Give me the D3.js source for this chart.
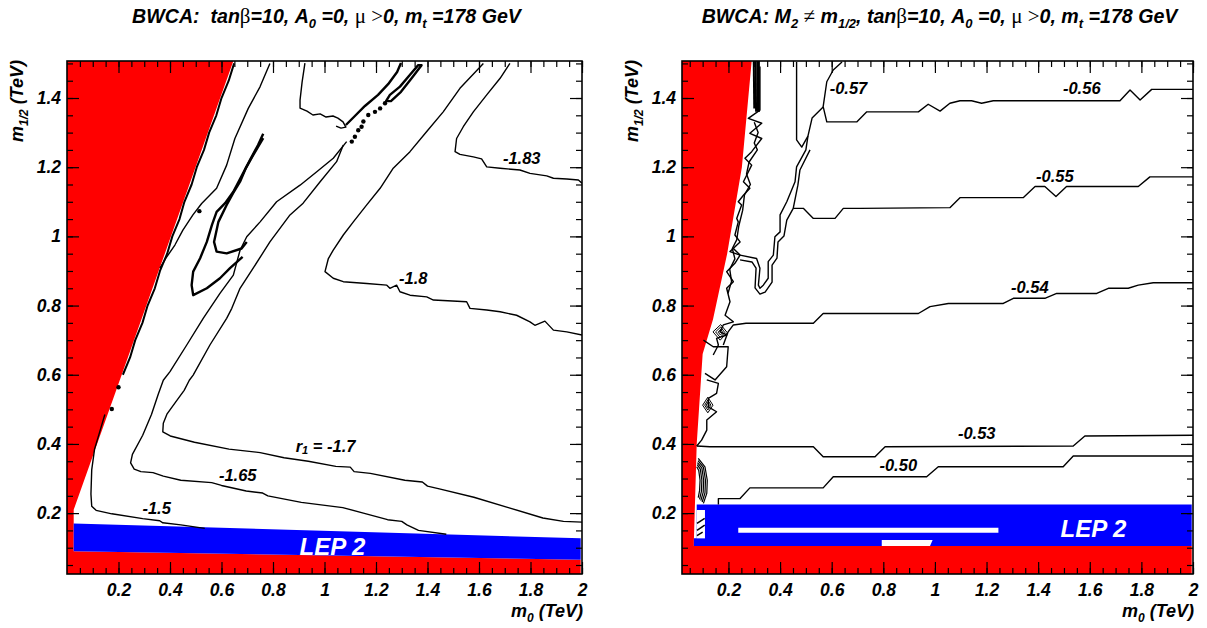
<!DOCTYPE html>
<html><head><meta charset="utf-8">
<script src="https://cdn.jsdelivr.net/npm/d3@7"></script>
<style>
body{margin:0;background:#fff}
svg{display:block}
text{font-family:"Liberation Sans",Arial,sans-serif;font-weight:bold;font-style:italic;fill:#000;white-space:pre}
</style>
</head><body>
<svg id="c" width="1207" height="628"></svg>
<script>
// ---------------- data (m0, m1/2 in TeV) ----------------
const xTickValues = [0.2,0.4,0.6,0.8,1.0,1.2,1.4,1.6,1.8,2.0];
const xTickLabels = ["0.2","0.4","0.6","0.8","1","1.2","1.4","1.6","1.8","2"];
const yTickValues = [0.2,0.4,0.6,0.8,1.0,1.2,1.4];
const yTickLabels = ["0.2","0.4","0.6","0.8","1","1.2","1.4"];

// ----- left panel: excluded regions -----
const leftRed = [[0,1.507],[0.646,1.507],[0.026,0.21],[0.026,0.09],[1.995,0.065],[1.995,0.024],[0,0.024]];
const leftBlue = [[0.026,0.17],[1.995,0.127],[1.995,0.065],[0.026,0.09]];

// ----- left panel: r1 contours -----
const leftC150 = [[0.147,0.485],[0.127,0.435],[0.107,0.385],[0.096,0.325],[0.093,0.255],[0.096,0.220],[0.113,0.208],[0.174,0.198],[0.294,0.184],[0.360,0.178],[0.372,0.172],[0.442,0.166],[0.535,0.156]];
const leftC165 = [[1.086,1.274],[1.034,1.226],[0.970,1.187],[0.905,1.148],[0.814,1.100],[0.750,1.042],[0.698,0.999],[0.672,0.960],[0.646,0.888],[0.594,0.835],[0.529,0.763],[0.465,0.686],[0.400,0.609],[0.374,0.584],[0.355,0.545],[0.328,0.485],[0.294,0.425],[0.254,0.370],[0.247,0.345],[0.261,0.327],[0.287,0.320],[0.334,0.317],[0.374,0.307],[0.442,0.295],[0.562,0.288],[0.600,0.280],[0.696,0.264],[0.760,0.258],[0.780,0.250],[0.910,0.231],[1.071,0.216],[1.151,0.200],[1.245,0.181],[1.300,0.176],[1.320,0.166],[1.365,0.150],[1.473,0.139]];
const leftC170 = [[1.073,1.264],[1.047,1.216],[0.983,1.158],[0.917,1.096],[0.866,1.062],[0.788,0.984],[0.723,0.908],[0.672,0.850],[0.640,0.792],[0.620,0.763],[0.555,0.686],[0.490,0.599],[0.475,0.584],[0.455,0.555],[0.421,0.520],[0.388,0.486],[0.374,0.460],[0.372,0.435],[0.401,0.423],[0.495,0.405],[0.629,0.385],[0.750,0.375],[0.843,0.360],[0.937,0.350],[1.044,0.335],[1.100,0.333],[1.115,0.320],[1.178,0.315],[1.312,0.295],[1.380,0.290],[1.400,0.278],[1.446,0.270],[1.580,0.246],[1.714,0.216],[1.848,0.186],[1.928,0.176],[2.0,0.174]];
const leftC180 = [[1.617,1.500],[1.526,1.428],[1.461,1.360],[1.397,1.303],[1.332,1.245],[1.267,1.197],[1.216,1.139],[1.164,1.091],[1.112,1.042],[1.073,1.004],[1.034,0.960],[1.015,0.936],[1.002,0.898],[1.034,0.879],[1.073,0.869],[1.164,0.864],[1.242,0.859],[1.254,0.850],[1.280,0.859],[1.293,0.840],[1.332,0.830],[1.397,0.825],[1.423,0.816],[1.552,0.811],[1.565,0.792],[1.630,0.787],[1.682,0.782],[1.746,0.772],[1.798,0.753],[1.817,0.743],[1.856,0.755],[1.889,0.729],[1.941,0.724],[2.0,0.715]];
const leftC183 = [[1.720,1.500],[1.682,1.457],[1.630,1.409],[1.578,1.360],[1.539,1.317],[1.513,1.283],[1.507,1.245],[1.526,1.237],[1.578,1.230],[1.610,1.224],[1.630,1.201],[1.682,1.197],[1.759,1.192],[1.798,1.182],[1.863,1.175],[1.889,1.168],[1.941,1.166],[1.986,1.163],[2.0,1.154]];
const leftBand1 = [[0.788,1.500],[0.750,1.433],[0.704,1.370],[0.652,1.283],[0.620,1.206],[0.581,1.139],[0.543,1.110],[0.523,1.095],[0.489,1.062],[0.450,1.018],[0.419,0.975],[0.384,0.937],[0.361,0.908]];
const leftLoopOuter = [[0.762,1.297],[0.742,1.264],[0.711,1.221],[0.680,1.177],[0.646,1.129],[0.614,1.096],[0.581,1.071],[0.563,1.033],[0.543,0.984],[0.517,0.937],[0.490,0.898],[0.484,0.859],[0.490,0.830],[0.543,0.850],[0.594,0.879],[0.633,0.908],[0.682,0.941]];
const leftLoopInner = [[0.762,1.284],[0.723,1.235],[0.695,1.198],[0.672,1.158],[0.645,1.125],[0.620,1.091],[0.588,1.042],[0.571,0.984],[0.581,0.956],[0.620,0.951],[0.678,0.965],[0.698,0.984]];
const leftTopV = [[0.924,1.501],[0.913,1.446],[0.905,1.394],[0.905,1.371],[0.932,1.362],[0.955,1.351],[0.983,1.354],[1.006,1.345],[1.033,1.348],[1.052,1.342],[1.072,1.331],[1.083,1.316],[1.064,1.313],[1.045,1.319]];
const leftTopThick = [[1.083,1.322],[1.118,1.348],[1.157,1.377],[1.208,1.409],[1.247,1.440],[1.282,1.475],[1.297,1.501]];
const leftTopLoop = [[1.364,1.495],[1.332,1.467],[1.293,1.433],[1.254,1.409],[1.239,1.391],[1.258,1.391],[1.297,1.418],[1.336,1.455],[1.377,1.495]];
const leftDots = [[1.235,1.385],[1.216,1.370],[1.196,1.360],[1.170,1.351],[1.151,1.332],[1.144,1.317],[1.131,1.307],[1.118,1.288],[1.106,1.274],[0.200,0.564],[0.174,0.501],[0.514,1.073]];
const leftEdge = [[0.649,1.50],[0.628,1.45],[0.600,1.40],[0.580,1.35],[0.552,1.30],[0.532,1.25],[0.504,1.20],[0.484,1.15],[0.456,1.10],[0.437,1.05],[0.409,1.00],[0.389,0.95],[0.361,0.90],[0.341,0.85],[0.313,0.80],[0.293,0.75],[0.265,0.70],[0.245,0.65],[0.217,0.60]];
const leftLabelText = ["-1.83","-1.8","r1 = -1.7","-1.65","-1.5"];
const leftLabelX = [1.766,1.345,1.004,0.663,0.348];
const leftLabelY = [1.226,0.879,0.395,0.310,0.216];
const leftLep = [1.031,0.103];

// ----- right panel: excluded regions -----
const rightRed = [[0.02,1.507],[0.29,1.507],[0.252,1.2],[0.195,0.95],[0.14,0.76],[0.10,0.66],[0.077,0.40],[0.066,0.12],[0.066,0.105],[1.995,0.105],[1.995,0.024],[0.02,0.024]];
const rightBlue = [[0.077,0.225],[1.995,0.225],[1.995,0.105],[0.066,0.105],[0.066,0.127],[0.077,0.127]];
const rightWhite = [
  [[0.077,0.209],[0.109,0.209],[0.109,0.127],[0.077,0.127]],
  [[0.238,0.158],[1.246,0.158],[1.246,0.143],[0.238,0.143]],
  [[0.794,0.122],[0.991,0.122],[0.981,0.105],[0.794,0.105]]
];

// ----- right panel: r1 contours -----
const rightC056 = [[0.640,1.504],[0.606,1.481],[0.581,1.447],[0.567,1.375],[0.581,1.331],[0.697,1.331],[0.736,1.360],[0.936,1.360],[0.974,1.382],[1.020,1.362],[1.058,1.385],[1.097,1.392],[1.142,1.392],[1.181,1.385],[1.226,1.392],[1.717,1.392],[1.756,1.423],[1.795,1.394],[1.840,1.425],[2.0,1.425]];
const rightC055 = [[0.451,1.081],[0.490,1.081],[0.529,1.052],[0.613,1.052],[0.645,1.081],[0.710,1.081],[1.058,1.083],[1.097,1.112],[1.342,1.112],[1.388,1.144],[1.426,1.144],[1.469,1.115],[1.510,1.144],[1.788,1.144],[1.833,1.172],[2.0,1.172]];
const rightC054 = [[0.180,0.686],[0.198,0.723],[0.219,0.744],[0.268,0.749],[0.529,0.749],[0.567,0.777],[0.710,0.777],[0.936,0.777],[0.981,0.797],[1.052,0.806],[1.265,0.806],[1.304,0.821],[1.426,0.821],[1.472,0.835],[1.627,0.835],[1.672,0.850],[1.749,0.850],[1.788,0.859],[1.846,0.866],[2.0,0.866]];
const rightC053 = [[0.077,0.394],[0.128,0.392],[0.529,0.392],[0.567,0.363],[0.768,0.363],[0.807,0.392],[1.536,0.394],[1.581,0.423],[2.0,0.425]];
const rightC050 = [[0.161,0.225],[0.161,0.242],[0.245,0.242],[0.283,0.273],[0.567,0.273],[0.606,0.305],[0.968,0.305],[1.013,0.334],[1.497,0.334],[1.536,0.365],[2.0,0.365]];
const rightVert = [[0.464,1.504],[0.464,1.279],[0.484,1.258],[0.508,1.290]];
const rightTongueOuter = [[0.567,1.374],[0.524,1.342],[0.508,1.290],[0.500,1.250],[0.464,1.201],[0.458,1.158],[0.426,1.100],[0.400,1.062],[0.400,1.013],[0.380,0.999],[0.374,0.946],[0.354,0.927],[0.354,0.879],[0.335,0.859],[0.322,0.850],[0.316,0.859],[0.322,0.908],[0.309,0.936],[0.245,0.946],[0.219,0.965]];
const rightTongueInner = [[0.516,1.250],[0.477,1.192],[0.469,1.148],[0.451,1.081],[0.426,1.047],[0.415,1.001],[0.392,0.984],[0.388,0.937],[0.369,0.917],[0.369,0.868],[0.342,0.839],[0.322,0.833],[0.303,0.851],[0.307,0.908],[0.291,0.926],[0.245,0.932]];
const rightEdgeZig = [[0.322,1.491],[0.322,1.365],[0.277,1.341],[0.329,1.327],[0.283,1.298],[0.329,1.283],[0.290,1.245],[0.264,1.226],[0.290,1.206],[0.258,1.158],[0.283,1.139],[0.258,1.119],[0.238,1.100],[0.251,1.091],[0.232,1.052],[0.238,1.042],[0.225,1.004],[0.245,0.984],[0.206,0.956],[0.245,0.946],[0.225,0.922],[0.193,0.898],[0.219,0.869],[0.193,0.850],[0.206,0.811],[0.187,0.772],[0.219,0.753],[0.180,0.744],[0.167,0.724],[0.193,0.715],[0.154,0.705],[0.161,0.686],[0.141,0.657]];
const rightEdgeZig2 = [[0.300,1.330],[0.315,1.300],[0.300,1.270],[0.312,1.250],[0.280,1.215],[0.270,1.180],[0.285,1.150],[0.262,1.120],[0.255,1.075],[0.240,1.030],[0.232,0.990],[0.215,0.965],[0.225,0.935],[0.205,0.905],[0.212,0.870],[0.198,0.835]];
const rightTopBlack = [
  [[0.298,1.507],[0.300,1.37]],
  [[0.305,1.507],[0.307,1.36]],
  [[0.312,1.507],[0.314,1.36]],
  [[0.318,1.507],[0.318,1.36]]
];
const rightMidLoop = [[0.103,0.700],[0.141,0.681],[0.199,0.681],[0.193,0.623],[0.148,0.585],[0.109,0.604]];
const rightMidZig = [[0.116,0.585],[0.161,0.575],[0.154,0.546],[0.122,0.532],[0.122,0.507],[0.154,0.493],[0.116,0.469],[0.116,0.440],[0.096,0.411],[0.077,0.394]];
const rightSmallLoops = [
  [[0.140,0.724],[0.170,0.745],[0.195,0.722],[0.168,0.700],[0.140,0.724]],
  [[0.150,0.724],[0.170,0.738],[0.186,0.722],[0.168,0.708],[0.150,0.724]],
  [[0.160,0.723],[0.170,0.731],[0.178,0.722],[0.169,0.715],[0.160,0.723]],
  [[0.100,0.512],[0.120,0.535],[0.140,0.512],[0.120,0.490],[0.100,0.512]],
  [[0.108,0.512],[0.120,0.527],[0.132,0.512],[0.120,0.498],[0.108,0.512]],
  [[0.114,0.512],[0.120,0.520],[0.126,0.512],[0.120,0.505],[0.114,0.512]]
];
const rightArcs = [
  [[0.083,0.358],[0.109,0.334],[0.118,0.295],[0.116,0.257],[0.103,0.228]],
  [[0.082,0.352],[0.103,0.332],[0.111,0.295],[0.109,0.258],[0.098,0.232]],
  [[0.080,0.346],[0.097,0.330],[0.104,0.295],[0.102,0.260],[0.093,0.236]],
  [[0.079,0.340],[0.091,0.327],[0.097,0.295],[0.095,0.262],[0.088,0.240]],
  [[0.077,0.334],[0.085,0.323],[0.090,0.295],[0.088,0.265],[0.083,0.245]]
];
const rightNotchLines = [
  [[0.078,0.170],[0.108,0.185]],
  [[0.078,0.150],[0.108,0.165]],
  [[0.078,0.135],[0.100,0.145]]
];
const rightLabelText = ["-0.57","-0.56","-0.55","-0.54","-0.53","-0.50"];
const rightLabelX = [0.665,1.569,1.465,1.368,1.162,0.858];
const rightLabelY = [1.428,1.430,1.174,0.854,0.432,0.339];
const rightLep = [1.614,0.155];

// ---------------- drawing ----------------
const svg = d3.select("#c");
const yDom = [0.024, 1.507];
const FONT = '"Liberation Sans",Arial,sans-serif';

function panel(opt) {
  const x = d3.scaleLinear().domain(opt.xDom).range([opt.x0, opt.x1]);
  const y = d3.scaleLinear().domain(yDom).range([574, 61]);
  const g = svg.append("g");
  const cid = "clip" + opt.id;
  svg.append("defs").append("clipPath").attr("id", cid)
    .append("rect").attr("x", opt.x0).attr("y", 61).attr("width", opt.x1 - opt.x0).attr("height", 574 - 61);
  const pg = g.append("g").attr("clip-path", `url(#${cid})`);
  const line = d3.line().x(d => x(d[0])).y(d => y(d[1]));
  const poly = pts => line(pts) + "Z";
  opt.draw(pg, x, y, line, poly);

  // axes: major + minor ticks, inward on all sides
  const minor = d3.range(0.05, 2.0001, 0.05).filter(v => v >= opt.xDom[0]);
  const minorY = d3.range(0.05, 1.5001, 0.05);
  const ax = (gen, tr, size, vals, labels) => {
    const a = g.append("g").attr("transform", tr)
      .call(gen.tickValues(vals).tickSize(size).tickPadding(10)
        .tickFormat(labels ? ((d, i) => labels[i]) : () => ""));
    a.select(".domain").remove();
    a.selectAll("line").attr("stroke", "#000").attr("stroke-width", 1.2);
    a.selectAll("text").attr("font-size", 17.5).attr("fill", "#000")
      .style("font-family", FONT).style("font-weight", "bold").style("font-style", "italic");
    return a;
  };
  ax(d3.axisBottom(x), "translate(0,574)", -12, xTickValues, xTickLabels);
  ax(d3.axisBottom(x), "translate(0,574)", -6, minor, null);
  ax(d3.axisTop(x), "translate(0,61)", -12, xTickValues, null);
  ax(d3.axisTop(x), "translate(0,61)", -6, minor, null);
  const yl = ax(d3.axisLeft(y), `translate(${opt.x0},0)`, -12, yTickValues, yTickLabels);
  yl.selectAll("text").attr("x", -6);
  ax(d3.axisLeft(y), `translate(${opt.x0},0)`, -6, minorY, null);
  ax(d3.axisRight(y), `translate(${opt.x1},0)`, -12, yTickValues, null);
  ax(d3.axisRight(y), `translate(${opt.x1},0)`, -6, minorY, null);

  g.append("rect").attr("x", opt.x0).attr("y", 61).attr("width", opt.x1 - opt.x0).attr("height", 574 - 61)
    .attr("fill", "none").attr("stroke", "#000").attr("stroke-width", 1.6);

  // axis titles
  const xt = g.append("text").attr("x", opt.x1 + 1).attr("y", 617).attr("text-anchor", "end").attr("font-size", 18);
  xt.append("tspan").text("m");
  xt.append("tspan").attr("font-size", 12).attr("dy", 5).text("0");
  xt.append("tspan").attr("dy", -5).text(" (TeV)");
  const yt = g.append("text").attr("transform", `translate(${opt.x0 - 44},60) rotate(-90)`)
    .attr("text-anchor", "end").attr("font-size", 18);
  yt.append("tspan").text("m");
  yt.append("tspan").attr("font-size", 12).attr("dy", 5).text("1/2");
  yt.append("tspan").attr("dy", -5).text(" (TeV)");

  // title
  const tt = g.append("text").attr("x", (opt.x0 + opt.x1) / 2 + 2).attr("y", 23).attr("text-anchor", "middle").attr("font-size", 19.6);
  opt.title.forEach(p => {
    const s = tt.append("tspan").text(p.t);
    if (p.sub) s.attr("font-size", 13).attr("dy", 5);
    if (p.up) s.attr("dy", -5);
    if (p.sym) s.style("font-family", '"Liberation Serif",serif').style("font-style", "normal").style("font-weight", "normal").attr("font-size", 21);
  });
  return {x, y};
}

function strokePath(pg, d, w) {
  pg.append("path").attr("d", d).attr("fill", "none").attr("stroke", "#000")
    .attr("stroke-width", w).attr("stroke-linejoin", "round");
}

function labels(pg, x, y, texts, xs, ys) {
  texts.forEach((t, i) => {
    const el = pg.append("text").attr("x", x(xs[i])).attr("y", y(ys[i]))
      .attr("text-anchor", "middle").attr("dominant-baseline", "central").attr("font-size", 16.5);
    if (t.startsWith("r1")) {
      el.append("tspan").text("r");
      el.append("tspan").attr("font-size", 11).attr("dy", 4).text("1");
      el.append("tspan").attr("dy", -4).text(" = -1.7");
    } else el.text(t);
  });
}

function lep(pg, x, y, pos) {
  pg.append("text").attr("x", x(pos[0])).attr("y", y(pos[1])).attr("text-anchor", "middle")
    .attr("dominant-baseline", "central").attr("font-size", 24).style("fill", "#fff").text("LEP 2");
}

panel({
  id: "L", xDom: [0, 2], x0: 67, x1: 582,
  title: [{t:"BWCA:  tan"},{t:"β",sym:1},{t:"=10, A"},{t:"0",sub:1},{t:" =0, ",up:1},{t:"μ >",sym:1},{t:"0, m"},{t:"t",sub:1},{t:" =178 GeV",up:1}],
  draw: (pg, x, y, line, poly) => {
    pg.append("path").attr("d", poly(leftRed)).attr("fill", "#ff0000");
    pg.append("path").attr("d", poly(leftBlue)).attr("fill", "#0000ff");
    strokePath(pg, line(leftEdge), 2);
    [leftC150, leftC165, leftC170, leftC180, leftC183, leftBand1, leftTopV].forEach(c => strokePath(pg, line(c), 1.4));
    [leftLoopOuter, leftLoopInner, leftTopThick].forEach(c => strokePath(pg, line(c), 2.4));
    strokePath(pg, poly(leftTopLoop), 2.4);
    pg.selectAll("circle.dot").data(leftDots).enter().append("circle")
      .attr("cx", d => x(d[0])).attr("cy", d => y(d[1])).attr("r", 2.2).attr("fill", "#000");
    labels(pg, x, y, leftLabelText, leftLabelX, leftLabelY);
    lep(pg, x, y, leftLep);
  }
});

panel({
  id: "R", xDom: [0.02, 2], x0: 682, x1: 1193,
  title: [{t:"BWCA: M"},{t:"2",sub:1},{t:" ",up:1},{t:"≠",sym:1},{t:" m"},{t:"1/2",sub:1},{t:", tan",up:1},{t:"β",sym:1},{t:"=10, A"},{t:"0",sub:1},{t:" =0, ",up:1},{t:"μ >",sym:1},{t:"0, m"},{t:"t",sub:1},{t:" =178 GeV",up:1}],
  draw: (pg, x, y, line, poly) => {
    pg.append("path").attr("d", poly(rightRed)).attr("fill", "#ff0000");
    pg.append("path").attr("d", poly(rightBlue)).attr("fill", "#0000ff");
    rightWhite.forEach(w => pg.append("path").attr("d", poly(w)).attr("fill", "#fff"));
    [rightC056, rightC055, rightC054, rightC053, rightC050, rightVert, rightTongueOuter, rightTongueInner,
     rightEdgeZig, rightEdgeZig2, rightMidLoop, rightMidZig].forEach(c => strokePath(pg, line(c), 1.4));
    rightTopBlack.forEach(c => strokePath(pg, line(c), 2));
    rightSmallLoops.forEach(c => strokePath(pg, line(c), 1));
    rightArcs.forEach(c => strokePath(pg, line(c), 1.2));
    rightNotchLines.forEach(c => strokePath(pg, line(c), 1.5));
    labels(pg, x, y, rightLabelText, rightLabelX, rightLabelY);
    lep(pg, x, y, rightLep);
  }
});
</script>
</body></html>
